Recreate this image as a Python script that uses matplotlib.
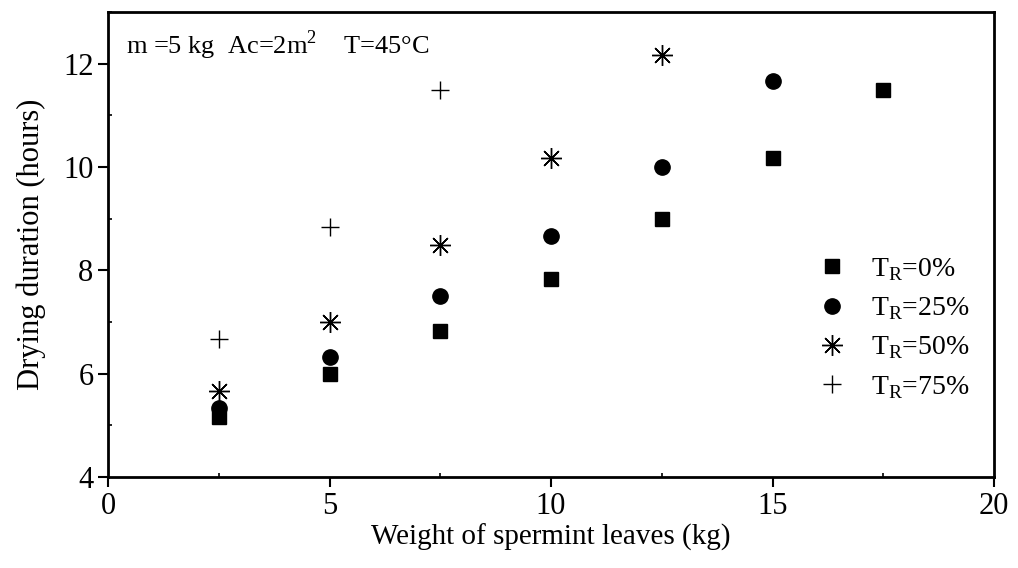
import numpy as np
import matplotlib
matplotlib.use("Agg")
import matplotlib.pyplot as plt
from matplotlib.ticker import MultipleLocator

plt.rcParams["font.family"] = ["Liberation Serif", "DejaVu Serif"]
plt.rcParams["mathtext.fontset"] = "custom"
plt.rcParams["mathtext.rm"] = "Liberation Serif"

# ── data ────────────────────────────────────────────────────────────────────
w_tr0 = [2.5, 5, 7.5, 10, 12.5, 15, 17.5]
t_tr0 = [5.17, 6.0, 6.83, 7.83, 9.0, 10.17, 11.5]

w_tr25 = [2.5, 5, 7.5, 10, 12.5, 15]
t_tr25 = [5.33, 6.33, 7.5, 8.67, 10.0, 11.67]

w_tr50 = [2.5, 5, 7.5, 10, 12.5]
t_tr50 = [5.67, 7.0, 8.5, 10.17, 12.17]

w_tr75 = [2.5, 5, 7.5]
t_tr75 = [6.67, 8.83, 11.5]

fig = plt.figure(figsize=(10.18, 5.68), dpi=100)
ax = fig.add_axes([108 / 1018, 1 - 477 / 568, (994 - 108) / 1018, (477 - 12) / 568])

ax.plot(w_tr0, t_tr0, "s", color="black", ms=10, ls="none", label=r"T$_\mathrm{R}$=0%")
ax.plot(w_tr25, t_tr25, "o", color="black", ms=11, ls="none", label=r"T$_\mathrm{R}$=25%")
ax.plot(w_tr50, t_tr50, marker=(8, 2, 0), color="black", ms=15, mew=1.0, ls="none",
        label=r"T$_\mathrm{R}$=50%")
ax.plot(w_tr75, t_tr75, "+", color="black", ms=13, mew=1.0, ls="none", label=r"T$_\mathrm{R}$=75%")

ax.set_xlim(0, 20)
ax.set_ylim(4, 13)
ax.xaxis.set_major_locator(MultipleLocator(5))
ax.xaxis.set_minor_locator(MultipleLocator(2.5))
ax.yaxis.set_major_locator(MultipleLocator(2))
ax.yaxis.set_minor_locator(MultipleLocator(1))
ax.tick_params(which="major", direction="out", length=7, width=1.5, labelsize=22)
ax.tick_params(which="minor", direction="in", length=3, width=1.2)
for s in ax.spines.values():
    s.set_linewidth(2)

ax.set_xlabel("Weight of spermint leaves (kg)", fontsize=21, labelpad=2)
ax.set_ylabel("Drying duration (hours)", fontsize=22, labelpad=12)

ax.text(0.02, 0.965, r"m =5 kg  Ac=2m$^2$    T=45°C", transform=ax.transAxes,
        fontsize=19, va="top", ha="left")

ax.legend(loc="lower right", bbox_to_anchor=(0.985, 0.14), frameon=False, fontsize=20,
          handletextpad=0.4, labelspacing=0.45, borderaxespad=0)

fig.savefig("out.png", dpi=100)
